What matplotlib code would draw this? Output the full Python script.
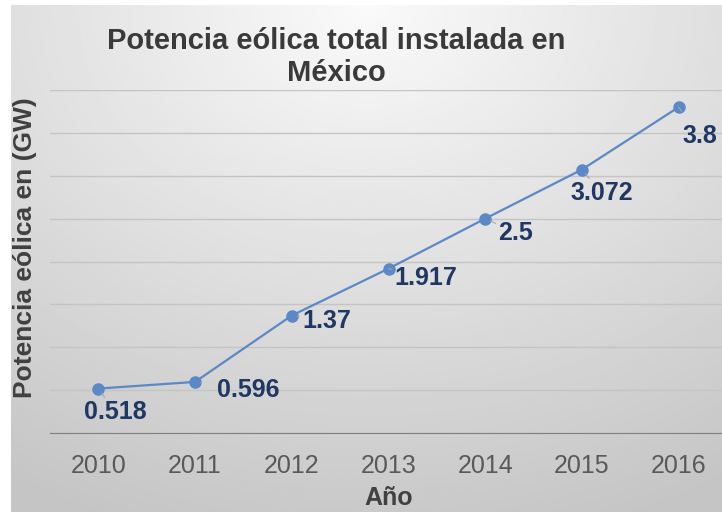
import numpy as np
import matplotlib
matplotlib.use('Agg')
import matplotlib.pyplot as plt

plt.rcParams['font.family'] = ['Liberation Sans', 'DejaVu Sans']

# data
years = ['2010', '2011', '2012', '2013', '2014', '2015', '2016']
potencia = [0.518, 0.596, 1.37, 1.917, 2.5, 3.072, 3.8]
etiquetas = ['0.518', '0.596', '1.37', '1.917', '2.5', '3.072', '3.8']
# label offsets in points (dx, dy)
offsets = [(12, -17), (38, -6), (25, -4), (27, -7), (22, -10), (14, -17), (15, -21)]

fig = plt.figure(figsize=(7.22, 5.12), dpi=100)
fig.patch.set_facecolor('white')

# gradient background
bg = fig.add_axes([11 / 722, 0, 1 - 11 / 722, 507 / 512])
yy, xx = np.mgrid[0:1:200j, 0:1:300j]
d = np.sqrt(((xx - 0.5) * 1.1) ** 2 + (yy * 1.0) ** 2)
g = 0.98 - 0.21 * np.clip(d, 0, 1.1) / 1.1
bg.imshow(g, cmap='gray', vmin=0, vmax=1, aspect='auto', extent=[0, 1, 0, 1], origin='upper')
bg.axis('off')

ax = fig.add_axes([50 / 722, 79 / 512, 677 / 722, 343 / 512])
ax.patch.set_alpha(0)
x = np.arange(len(years))
ax.plot(x, potencia, color='#5b88c6', lw=1.6, marker='o', ms=8, zorder=3)

for xi, yi, lab, off in zip(x, potencia, etiquetas, offsets):
    ax.annotate(lab, (xi, yi), xytext=off, textcoords='offset points',
                ha='center', va='center', fontsize=18, fontweight='bold', color='#1f3763',
                arrowprops=dict(arrowstyle='-', color='#a6a6a6', lw=0.8, shrinkA=9, shrinkB=4))

ax.set_xlim(-0.5, 6.5)
ax.set_ylim(0, 4)
ax.set_xticks(x)
ax.set_xticklabels(years, fontsize=18, color='#595959')
ax.set_yticks(np.arange(0, 4.01, 0.5))
ax.set_yticklabels([])
ax.tick_params(length=0, pad=15)
ax.grid(axis='y', color='#c4c4c4', lw=1)
for s in ['top', 'right', 'left']:
    ax.spines[s].set_visible(False)
ax.spines['bottom'].set_color('#7f7f7f')
ax.set_xlabel('Año', fontsize=18, fontweight='bold', color='#404040', labelpad=6)
ax.set_ylabel('Potencia eólica en (GW)', fontsize=19, fontweight='bold', color='#404040')
ax.yaxis.set_label_coords(-0.019, 0.54)

fig.text(336 / 722, 1 - 57 / 512, 'Potencia eólica total instalada en\nMéxico', ha='center', va='center',
         fontsize=21, fontweight='bold', color='#3a3a3a', linespacing=1.2)

fig.savefig('out.png', dpi=100)
